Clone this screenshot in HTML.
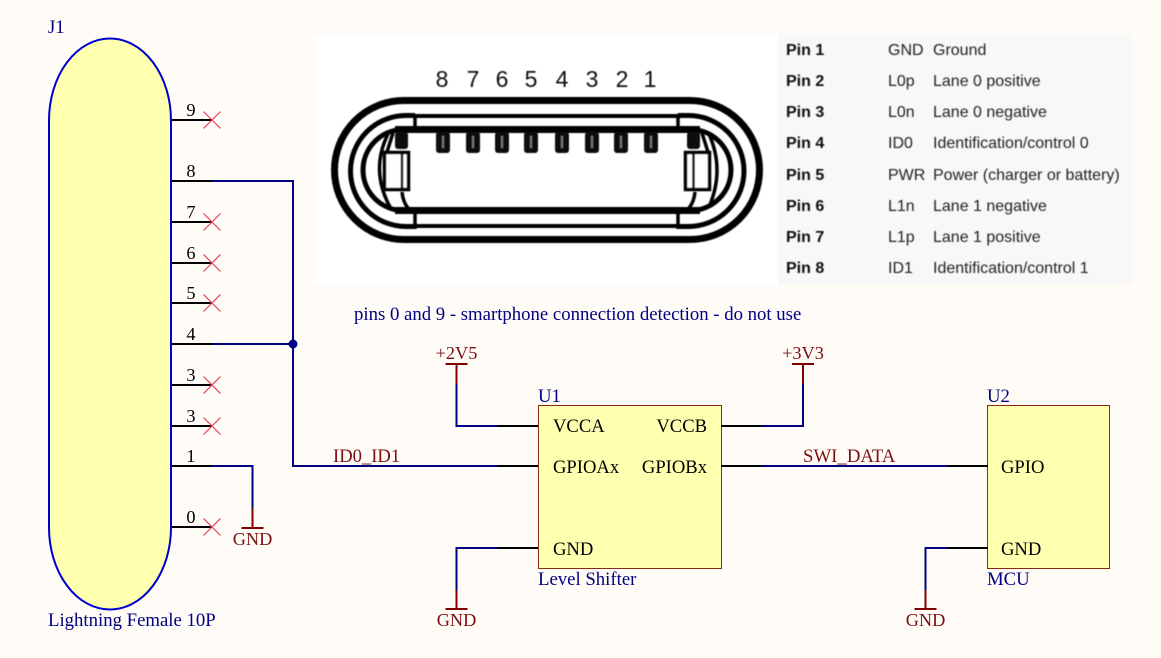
<!DOCTYPE html>
<html><head><meta charset="utf-8"><style>
html,body{margin:0;padding:0;background:#fffcf8}
svg{display:block}
text{font-family:"Liberation Serif",serif;font-size:18.300px}
.b text,text.b{font-size:18.750px}
.b{fill:#000080}.m{fill:#7a1010}.k{fill:#000}
.n text{font-size:18.600px}
.t text{font-family:"Liberation Sans",sans-serif;font-size:16px;fill:#222}
.t .h{font-weight:bold;fill:#111}
.w{stroke:#000080;stroke-width:2;fill:none}
.p{stroke:#000;stroke-width:2;fill:none}
.r{stroke:#800000;stroke-width:2;fill:none}
.x{stroke:#e84050;stroke-width:1.2;fill:none}
.c{stroke:#000;fill:none}
.d text{font-family:"Liberation Sans",sans-serif;font-size:23px;fill:#111}
</style></head><body>
<svg width="1161" height="658" viewBox="0 0 1161 658" xmlns="http://www.w3.org/2000/svg">
<defs><filter id="s" x="-2%" y="-2%" width="104%" height="104%"><feGaussianBlur stdDeviation="0.400"/></filter></defs>
<rect width="1161" height="658" fill="#fffcf8"/>
<!-- connector image -->
<rect x="314" y="35" width="465" height="250" fill="#fff"/>
<rect x="778" y="34" width="354" height="250" fill="#f8f8f8"/>
<g filter="url(#s)">
<g class="c">
<rect x="334.500" y="100.500" width="425" height="139" rx="69.500" ry="69.500" stroke-width="7"/>
<path d="M415 116H678M415 226H678" stroke-width="4"/>
<path d="M415 115.500H406A55.500 55.500 0 0 0 406 226.500H415M678 115.500H688.500A55.500 55.500 0 0 1 688.500 226.500H678" stroke-width="5"/>
<path d="M415 114V131M415 211V229M678 114V131M678 211V229" stroke-width="3.500"/>
<path d="M395 129.500H700M395 210.500H700" stroke-width="7"/>
<path d="M415 129.500H403.500A40.500 40.500 0 0 0 403.500 210.500H415M678 129.500H690.500A40.500 40.500 0 0 1 690.500 210.500H678" stroke-width="5"/>
<path d="M388 134Q370 170 390 207M393 133L387 152M402 192Q403 202 408 208M709 134Q725 170 709 207M702 133L708 152M695 192Q694 202 689 208" stroke-width="3.500"/>
<rect x="384.500" y="152.500" width="24" height="37" stroke-width="3.500" fill="#fff"/>
<path d="M402 151V190" stroke-width="2.500"/>
<rect x="685.500" y="152.500" width="24" height="37" stroke-width="3.500" fill="#fff"/>
<path d="M693.500 151V190" stroke-width="2.500"/>
</g>
<g fill="#111">
<rect x="436" y="132" width="14" height="21" rx="3"/><rect x="466" y="132" width="14" height="21" rx="3"/>
<rect x="495" y="132" width="14" height="21" rx="3"/><rect x="524" y="132" width="14" height="21" rx="3"/>
<rect x="555" y="132" width="14" height="21" rx="3"/><rect x="585" y="132" width="14" height="21" rx="3"/>
<rect x="614" y="132" width="14" height="21" rx="3"/><rect x="644" y="132" width="14" height="21" rx="3"/>
<rect x="395" y="132" width="13" height="17" rx="3"/><rect x="687" y="132" width="13" height="17" rx="3"/>
</g>
<g fill="#777">
<rect x="442" y="136" width="2" height="12"/><rect x="472" y="136" width="2" height="12"/><rect x="501" y="136" width="2" height="12"/><rect x="530" y="136" width="2" height="12"/><rect x="561" y="136" width="2" height="12"/><rect x="591" y="136" width="2" height="12"/><rect x="620" y="136" width="2" height="12"/><rect x="650" y="136" width="2" height="12"/>
</g>
<g class="d" text-anchor="middle">
<text x="442" y="87">8</text><text x="473" y="87">7</text><text x="502" y="87">6</text><text x="531" y="87">5</text><text x="562" y="87">4</text><text x="592" y="87">3</text><text x="622" y="87">2</text><text x="650" y="87">1</text>
</g>
<!-- pin table -->
<g class="t">
<text class="h" x="786" y="55">Pin 1</text><text x="888" y="55">GND</text><text x="933" y="55">Ground</text>
<text class="h" x="786" y="86">Pin 2</text><text x="888" y="86">L0p</text><text x="933" y="86">Lane 0 positive</text>
<text class="h" x="786" y="117">Pin 3</text><text x="888" y="117">L0n</text><text x="933" y="117">Lane 0 negative</text>
<text class="h" x="786" y="148">Pin 4</text><text x="888" y="148">ID0</text><text x="933" y="148">Identification/control 0</text>
<text class="h" x="786" y="180">Pin 5</text><text x="888" y="180">PWR</text><text x="933" y="180">Power (charger or battery)</text>
<text class="h" x="786" y="211">Pin 6</text><text x="888" y="211">L1n</text><text x="933" y="211">Lane 1 negative</text>
<text class="h" x="786" y="242">Pin 7</text><text x="888" y="242">L1p</text><text x="933" y="242">Lane 1 positive</text>
<text class="h" x="786" y="273">Pin 8</text><text x="888" y="273">ID1</text><text x="933" y="273">Identification/control 1</text>
</g>
</g>
<!-- J1 -->
<rect x="49" y="38.500" width="122" height="571" rx="61" ry="82" fill="#ffffb0" stroke="#0000d0" stroke-width="2"/>
<g class="p">
<path d="M172 120H212M172 181H212M172 222H212M172 263H212M172 303H212M172 344H212M172 385H212M172 426H212M172 466H212M172 527H212"/>
</g>
<g class="x">
<path d="M203.500 111.500l17 17M220.500 111.500l-17 17M203.500 213.500l17 17M220.500 213.500l-17 17M203.500 254.500l17 17M220.500 254.500l-17 17M203.500 294.500l17 17M220.500 294.500l-17 17M203.500 376.500l17 17M220.500 376.500l-17 17M203.500 417.500l17 17M220.500 417.500l-17 17M203.500 518.500l17 17M220.500 518.500l-17 17"/>
</g>
<g class="k" text-anchor="middle">
<text x="191" y="116">9</text><text x="191" y="177">8</text><text x="191" y="218">7</text><text x="191" y="259">6</text><text x="191" y="299">5</text><text x="191" y="340">4</text><text x="191" y="381">3</text><text x="191" y="422">3</text><text x="191" y="462">1</text><text x="191" y="523">0</text>
</g>
<text class="b" x="48" y="33">J1</text>
<text class="b" x="48" y="626">Lightning Female 10P</text>
<text class="b" x="354" y="320">pins 0 and 9 - smartphone connection detection - do not use</text>
<!-- net labels drawn under the wires -->
<g class="m n">
<text x="333" y="462">ID0_ID1</text>
<text x="803" y="462" style="font-size:18.800px">SWI_DATA</text>
</g>
<!-- nets -->
<g class="w">
<path d="M212 181H293V466H498M212 344H293M212 466H252.500V508"/>
<path d="M456.500 384V426H498M803 384V426H761M761 466H950M498 548H456.500V590M948 548H925.500V590"/>
</g>
<circle cx="293" cy="344" r="4.500" fill="#000080"/>
<!-- U1 -->
<rect x="538.500" y="405.500" width="183" height="163" fill="#ffffb0" stroke="#8a2a10" stroke-width="1"/>
<rect x="987.500" y="405.500" width="122" height="163" fill="#ffffb0" stroke="#8a2a10" stroke-width="1"/>
<g class="p">
<path d="M498 426H538M498 466H538M498 548H538M721 426H761M721 466H761M948 466H988M948 548H988"/>
</g>
<g class="k n">
<text x="553" y="432">VCCA</text><text x="553" y="473">GPIOAx</text><text x="553" y="555">GND</text>
<text x="707" y="432" text-anchor="end">VCCB</text><text x="707" y="473" text-anchor="end">GPIOBx</text>
<text x="1001" y="473">GPIO</text><text x="1001" y="555">GND</text>
</g>
<g class="b">
<text x="538" y="402">U1</text><text x="538" y="585">Level Shifter</text>
<text x="987" y="402">U2</text><text x="987" y="585">MCU</text>
</g>
<!-- power symbols -->
<g class="r">
<path d="M252.500 508V528M241.500 528H263.500"/>
<path d="M456.500 364V384M445.500 364H467.500"/>
<path d="M803 364V384M792 364H814"/>
<path d="M456.500 590V609M445.500 609H467.500"/>
<path d="M925.500 590V609M914.500 609H936.500"/>
</g>
<g class="m" text-anchor="middle">
<text x="252.500" y="545">GND</text>
<text x="456.500" y="626">GND</text>
<text x="925.500" y="626">GND</text>
<text x="456.500" y="359">+2V5</text>
<text x="803" y="359">+3V3</text>
</g>
</svg>
</body></html>
